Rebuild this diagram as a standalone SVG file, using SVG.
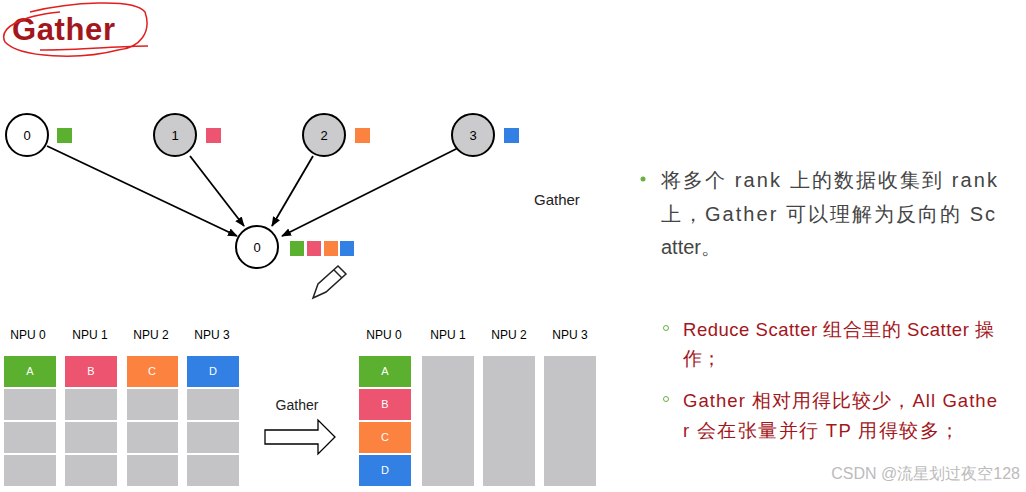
<svg xmlns="http://www.w3.org/2000/svg" width="1026" height="492" viewBox="0 0 1026 492">
<style>
text{font-family:"Liberation Sans",Arial,sans-serif}
.n{fill:#fff;stroke:#000;stroke-width:2}
.g{fill:#cbcacc;stroke:#000;stroke-width:2}
.nl{font-size:13px;text-anchor:middle}
.hd{font-size:12px;text-anchor:middle}
.cl{font-size:11px;fill:#fff;text-anchor:middle}
.e{fill:#c4c3c5}
.b1{font-size:20px;fill:#444}
.b2{font-size:18.5px;fill:#a3161b}
</style>
<defs><marker id="ah" markerWidth="10" markerHeight="10" refX="9" refY="5" orient="auto" markerUnits="userSpaceOnUse"><path d="M0,1 L10,5 L0,9 Z" fill="#000"/></marker></defs>
<g id="title"><text x="12" y="40" font-size="31" font-weight="bold" fill="#a3161b" textLength="103">Gather</text>
<path d="M30,12 C70,2 135,-2 145,12 C152,32 140,48 118,50 C80,60 20,58 5,42 C-2,28 20,16 60,12 M40,50 C80,50 120,46 148,46" fill="none" stroke="#e02020" stroke-width="1.5"/></g>
<g id="connectors" stroke="#000" stroke-width="1.8" fill="none" marker-end="url(#ah)">
<path d="M47,146 L237,236"/><path d="M190,156 L244,226"/><path d="M313,156 L272,226"/><path d="M458,148 L282,236"/>
</g>
<g id="n0"><circle class="n" cx="27" cy="135" r="21"/><text class="nl" x="27" y="140">0</text><rect x="57" y="128" width="15" height="15" fill="#5bb030"/></g>
<g id="n1"><circle class="g" cx="175" cy="135" r="21"/><text class="nl" x="175" y="140">1</text><rect x="206" y="128" width="15" height="15" fill="#ec5470"/></g>
<g id="n2"><circle class="g" cx="324" cy="135" r="21"/><text class="nl" x="324" y="140">2</text><rect x="355" y="128" width="15" height="15" fill="#fc8240"/></g>
<g id="n3"><circle class="g" cx="473" cy="135" r="21"/><text class="nl" x="473" y="140">3</text><rect x="504" y="128" width="15" height="15" fill="#3280e4"/></g>
<g id="nr"><circle class="n" cx="257" cy="247" r="21"/><text class="nl" x="257" y="252">0</text>
<rect x="290" y="241" width="14" height="15" fill="#5bb030"/><rect x="307" y="241" width="14" height="15" fill="#ec5470"/><rect x="324" y="241" width="14" height="15" fill="#fc8240"/><rect x="340" y="241" width="14" height="15" fill="#3280e4"/></g>
<g id="pencil" fill="#fff" stroke="#222" stroke-width="1.5"><path d="M313,298 L318,284 L338,266 L346,274 L326,292 Z"/><path d="M334,270 L342,278"/></g>
<text x="534" y="205" font-size="15" fill="#222">Gather</text>
<g id="left">
<text class="hd" x="28" y="339">NPU 0</text><text class="hd" x="90" y="339">NPU 1</text><text class="hd" x="151" y="339">NPU 2</text><text class="hd" x="212" y="339">NPU 3</text>
<rect x="4" y="356" width="52" height="31" fill="#5bb030"/><rect x="65" y="356" width="52" height="31" fill="#ec5470"/><rect x="127" y="356" width="51" height="31" fill="#fc8240"/><rect x="187" y="356" width="52" height="31" fill="#3280e4"/>
<text class="cl" x="30" y="375">A</text><text class="cl" x="91" y="375">B</text><text class="cl" x="152" y="375">C</text><text class="cl" x="213" y="375">D</text>
<g class="e"><rect x="4" y="389" width="52" height="31"/><rect x="4" y="422" width="52" height="31"/><rect x="4" y="455" width="52" height="31"/>
<rect x="65" y="389" width="52" height="31"/><rect x="65" y="422" width="52" height="31"/><rect x="65" y="455" width="52" height="31"/>
<rect x="127" y="389" width="51" height="31"/><rect x="127" y="422" width="51" height="31"/><rect x="127" y="455" width="51" height="31"/>
<rect x="187" y="389" width="52" height="31"/><rect x="187" y="422" width="52" height="31"/><rect x="187" y="455" width="52" height="31"/></g>
</g>
<g id="arrow"><text x="297" y="410" font-size="14" text-anchor="middle" fill="#222">Gather</text>
<path d="M265,430 L318,430 L318,420 L335,437 L318,454 L318,444 L265,444 Z" fill="#fff" stroke="#000" stroke-width="1.3"/></g>
<g id="right">
<text class="hd" x="384" y="339">NPU 0</text><text class="hd" x="448" y="339">NPU 1</text><text class="hd" x="509" y="339">NPU 2</text><text class="hd" x="570" y="339">NPU 3</text>
<rect x="359" y="356" width="52" height="31" fill="#5bb030"/><rect x="359" y="389" width="52" height="31" fill="#ec5470"/><rect x="359" y="422" width="52" height="31" fill="#fc8240"/><rect x="359" y="455" width="52" height="31" fill="#3280e4"/>
<text class="cl" x="385" y="375">A</text><text class="cl" x="385" y="408">B</text><text class="cl" x="385" y="441">C</text><text class="cl" x="385" y="474">D</text>
<g class="e"><rect x="422" y="356" width="52" height="130"/><rect x="483" y="356" width="52" height="130"/><rect x="544" y="356" width="52" height="130"/></g>
</g>
<g id="bullets">
<circle cx="643" cy="179" r="2.5" fill="#6bb040"/>
<text class="b1" x="661" y="187" textLength="336">将多个 rank 上的数据收集到 rank</text>
<text class="b1" x="661" y="221" textLength="334">上，Gather 可以理解为反向的 Sc</text>
<text class="b1" x="661" y="254">atter。</text>
<circle cx="666" cy="328" r="2.5" fill="none" stroke="#6bb040"/>
<text class="b2" x="683" y="336" textLength="311">Reduce Scatter 组合里的 Scatter 操</text>
<text class="b2" x="683" y="365">作；</text>
<circle cx="666" cy="399" r="2.5" fill="none" stroke="#6bb040"/>
<text class="b2" x="683" y="407" textLength="314">Gather 相对用得比较少，All Gathe</text>
<text class="b2" x="683" y="437" textLength="276">r 会在张量并行 TP 用得较多；</text>
<text x="1020" y="479" font-size="16" fill="#bbb" text-anchor="end">CSDN @流星划过夜空128</text>
</g>
</svg>
